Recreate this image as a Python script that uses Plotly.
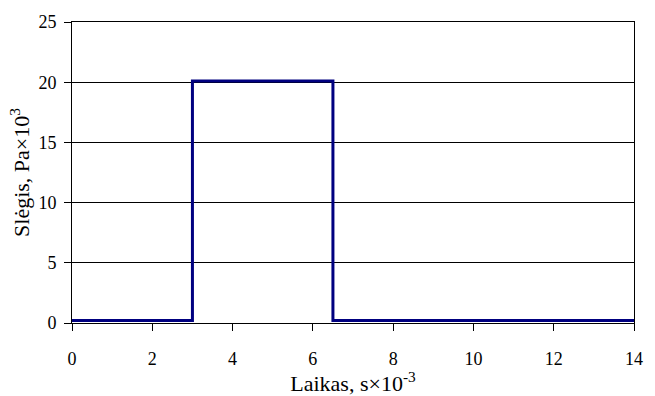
import plotly.graph_objects as go

# Data (time in s×10^-3, pressure in Pa×10^3)
time_ms = [0, 3, 6.5, 14]
pressure_kpa = [0.2, 20.1, 0.2, 0.2]

x_ticks = [0, 2, 4, 6, 8, 10, 12, 14]
y_ticks = [0, 5, 10, 15, 20, 25]

font_family = "Liberation Serif, Times New Roman, serif"

fig = go.Figure()
fig.add_trace(go.Scatter(
    x=time_ms, y=pressure_kpa, mode="lines",
    line=dict(color="#000080", width=3, shape="hv"),
    showlegend=False,
))

fig.update_layout(
    width=655, height=396,
    margin=dict(l=72, r=12, t=18, b=71),
    paper_bgcolor="white", plot_bgcolor="white",
    font=dict(family=font_family, size=18, color="black"),
)
fig.update_xaxes(
    range=[0, 14], tickvals=x_ticks, ticks="outside", ticklen=7,
    tickcolor="black", showline=True, linecolor="black", linewidth=1,
    mirror=True, showgrid=False, zeroline=False,
    ticklabelstandoff=12,
    title=dict(text="Laikas, s×10<sup>-3</sup>", standoff=0),
)
fig.update_yaxes(
    range=[0, 25], tickvals=y_ticks, ticks="outside", ticklen=7,
    tickcolor="black", showline=True, linecolor="black", linewidth=1,
    mirror=True, showgrid=True, gridcolor="black", gridwidth=1,
    zeroline=False, ticklabelstandoff=4,
    title=dict(text="Slėgis, Pa×10<sup>3</sup>", standoff=2),
)

fig.write_html("out.html")
